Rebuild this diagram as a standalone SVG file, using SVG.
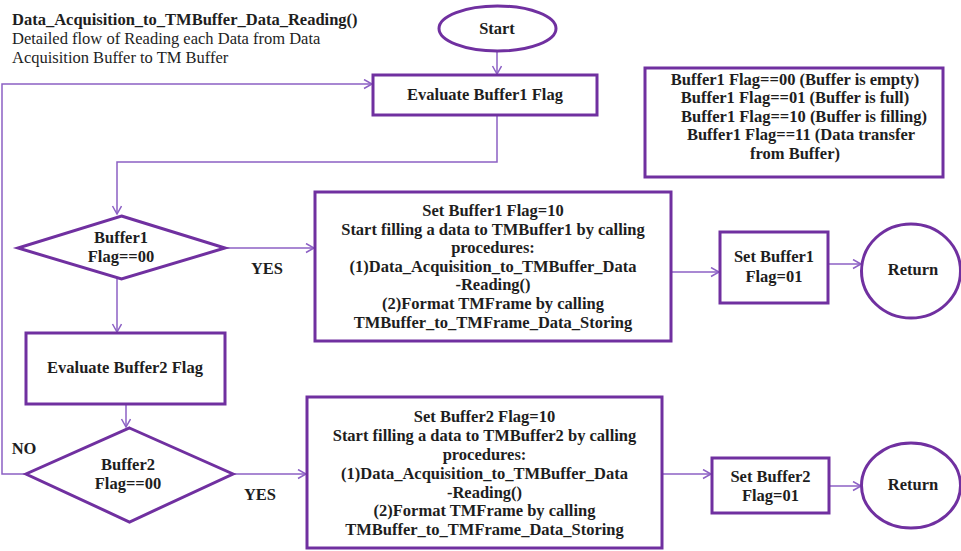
<svg xmlns="http://www.w3.org/2000/svg" width="961" height="551" viewBox="0 0 961 551" font-family="'Liberation Serif', 'Times New Roman', 'DejaVu Serif', serif">
<defs>
<style>
.node{fill:#fff;stroke:#7030A0;stroke-width:3}
.conn{fill:none;stroke:#8C60C4;stroke-width:1.5}
text{font-family:'Liberation Serif','Times New Roman','DejaVu Serif',serif;font-size:16.5px;fill:#1e1e1e}
.b{font-weight:bold}
.c{text-anchor:middle}
</style>
<marker id="arr" markerUnits="userSpaceOnUse" markerWidth="12" markerHeight="12" refX="9" refY="5" orient="auto">
<path d="M1,0.5 L9,5 L1,9.5" fill="none" stroke="#8C60C4" stroke-width="1.5"/>
</marker>
</defs>
<rect width="961" height="551" fill="#fff"/>
<g id="title">
<text x="12" y="25" class="b" font-size="16.8">Data_Acquisition_to_TMBuffer_Data_Reading()</text>
<text x="12" y="44" font-size="16.5">Detailed flow of Reading each Data from Data</text>
<text x="12" y="63" font-size="16.5">Acquisition Buffer to TM Buffer</text>
</g>
<g id="connectors">
<path class="conn" d="M497,51 V74" marker-end="url(#arr)"/>
<path class="conn" d="M497,115 V162 H117 V214" marker-end="url(#arr)"/>
<path class="conn" d="M225,248 H314" marker-end="url(#arr)"/>
<path class="conn" d="M117,279 V332" marker-end="url(#arr)"/>
<path class="conn" d="M671,272 H719" marker-end="url(#arr)"/>
<path class="conn" d="M828,264 H861" marker-end="url(#arr)"/>
<path class="conn" d="M126,404 V427" marker-end="url(#arr)"/>
<path class="conn" d="M233,474 H306" marker-end="url(#arr)"/>
<path class="conn" d="M662,474 H711" marker-end="url(#arr)"/>
<path class="conn" d="M829,486 H861" marker-end="url(#arr)"/>
<path class="conn" d="M26,474 H2 V84 H372" marker-end="url(#arr)"/>
<text x="267" y="274" class="b c">YES</text>
<text x="260" y="500" class="b c">YES</text>
<text x="24" y="454" class="b c">NO</text>
</g>
<g id="start">
<ellipse class="node" cx="497.5" cy="28.5" rx="58.5" ry="22.5"/>
<text x="497" y="34" class="b c">Start</text>
</g>
<g id="eval1">
<rect class="node" x="373" y="75" width="224" height="40"/>
<text x="485" y="100" class="b c">Evaluate Buffer1 Flag</text>
</g>
<g id="legend">
<rect class="node" x="645" y="68" width="298" height="109"/>
<text x="795" y="85" class="b c">Buffer1 Flag==00 (Buffer is empty)</text>
<text x="795" y="103" class="b c">Buffer1 Flag==01 (Buffer is full)</text>
<text x="804" y="122" class="b c">Buffer1 Flag==10 (Buffer is filling)</text>
<text x="801" y="140" class="b c">Buffer1 Flag==11 (Data transfer</text>
<text x="795" y="159" class="b c">from Buffer)</text>
</g>
<g id="decision1">
<polygon class="node" points="121.5,216 225,248 121.5,279 18,248"/>
<text x="121" y="243" class="b c">Buffer1</text>
<text x="121" y="262" class="b c">Flag==00</text>
</g>
<g id="setbuf1">
<rect class="node" x="315" y="192" width="356" height="149"/>
<text x="493" y="216" class="b c">Set Buffer1 Flag=10</text>
<text x="493" y="234.5" class="b c">Start filling a data to TMBuffer1 by calling</text>
<text x="493" y="253" class="b c">procedures:</text>
<text x="493" y="271.5" class="b c">(1)Data_Acquisition_to_TMBuffer_Data</text>
<text x="493" y="290" class="b c">-Reading()</text>
<text x="493" y="308.5" class="b c">(2)Format TMFrame by calling</text>
<text x="493" y="327.5" class="b c">TMBuffer_to_TMFrame_Data_Storing</text>
</g>
<g id="flag1">
<rect class="node" x="720" y="232" width="108" height="71"/>
<text x="774" y="262" class="b c">Set Buffer1</text>
<text x="774" y="282" class="b c">Flag=01</text>
</g>
<g id="return1">
<ellipse class="node" cx="911" cy="271" rx="49.5" ry="47"/>
<text x="913" y="275" class="b c">Return</text>
</g>
<g id="eval2">
<rect class="node" x="26" y="333" width="199" height="71"/>
<text x="125" y="373" class="b c">Evaluate Buffer2 Flag</text>
</g>
<g id="decision2">
<polygon class="node" points="129.5,428 233,474 129.5,522 26,474"/>
<text x="128" y="470" class="b c">Buffer2</text>
<text x="128" y="489" class="b c">Flag==00</text>
</g>
<g id="setbuf2">
<rect class="node" x="307" y="397" width="355" height="151"/>
<text x="484.5" y="422" class="b c">Set Buffer2 Flag=10</text>
<text x="484.5" y="441" class="b c">Start filling a data to TMBuffer2 by calling</text>
<text x="484.5" y="460" class="b c">procedures:</text>
<text x="484.5" y="479" class="b c">(1)Data_Acquisition_to_TMBuffer_Data</text>
<text x="484.5" y="497.5" class="b c">-Reading()</text>
<text x="484.5" y="516" class="b c">(2)Format TMFrame by calling</text>
<text x="484.5" y="535" class="b c">TMBuffer_to_TMFrame_Data_Storing</text>
</g>
<g id="flag2">
<rect class="node" x="712" y="458" width="117" height="55"/>
<text x="770.5" y="482" class="b c">Set Buffer2</text>
<text x="770.5" y="501" class="b c">Flag=01</text>
</g>
<g id="return2">
<ellipse class="node" cx="911" cy="485.5" rx="49.5" ry="42.5"/>
<text x="913" y="490" class="b c">Return</text>
</g>
</svg>
